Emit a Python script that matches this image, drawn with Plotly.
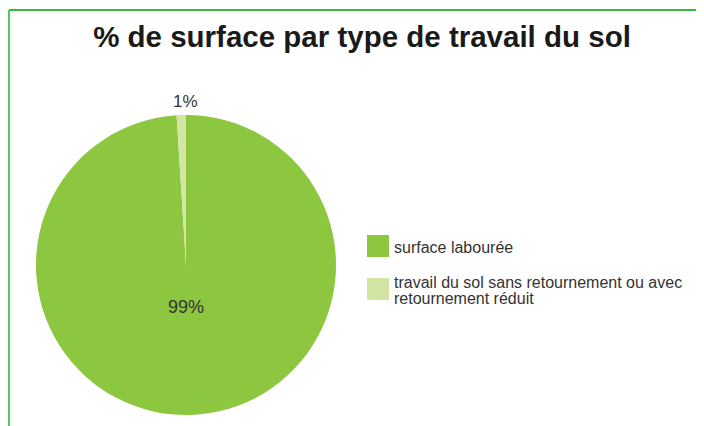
import plotly.graph_objects as go

labels = ["surface labourée", "travail du sol sans retournement ou avec<br>retournement réduit"]
values = [99, 1]
text_labels = ["99%", "1%"]
colors = ["#8DC63F", "#D2E5A2"]

# page has an 8px body margin, so the figure is a bit smaller than the window
W, H = 696, 418
FONT = "Liberation Sans, Arial"

fig = go.Figure()
fig.add_trace(go.Pie(
    labels=labels,
    values=values,
    textinfo="none",
    marker=dict(colors=colors, line=dict(width=0)),
    sort=False,
    direction="clockwise",
    rotation=0,
    showlegend=False,
    hoverinfo="label+percent",
    domain=dict(x=[28 / W, 328 / W], y=[1 - 407 / H, 1 - 107 / H]),
))

shapes = []
annotations = []

# slice labels placed where the original has them
label_pos = [(178, 299, 18), (177, 94, 17)]
for t, (lx, ly, fs) in zip(text_labels, label_pos):
    annotations.append(dict(xref="paper", yref="paper", x=lx / W, y=1 - ly / H,
                            xanchor="center", yanchor="middle",
                            text=t, showarrow=False,
                            font=dict(family=FONT, size=fs, color="#333333")))

# legend drawn by hand (big squares, tight line spacing)
square_top = [227, 270]
baselines = [[244], [279, 295]]
for lab, col, sq, bl in zip(labels, colors, square_top, baselines):
    shapes.append(dict(type="rect", xref="paper", yref="paper",
                       x0=359 / W, x1=381 / W, y0=1 - (sq + 22) / H, y1=1 - sq / H,
                       fillcolor=col, line=dict(width=0)))
    for line, b in zip(lab.split("<br>"), bl):
        annotations.append(dict(xref="paper", yref="paper", x=384 / W, y=1 - (b - 5) / H,
                                text=line, showarrow=False, xanchor="left", yanchor="middle",
                                font=dict(family=FONT, size=16, color="#333333")))

# green frame (top and left)
shapes.append(dict(type="line", xref="paper", yref="paper", x0=1 / W, x1=1, y0=1 - 2 / H, y1=1 - 2 / H,
                   line=dict(color="#3CB83C", width=2)))
shapes.append(dict(type="line", xref="paper", yref="paper", x0=1 / W, x1=1 / W, y0=0, y1=1 - 2 / H,
                   line=dict(color="#5CC45C", width=2)))

fig.update_layout(
    width=W, height=H,
    margin=dict(l=0, r=0, t=0, b=0),
    paper_bgcolor="white",
    plot_bgcolor="white",
    title=dict(text="<b>% de surface par type de travail du sol</b>",
               font=dict(family=FONT, size=29.5, color="#1a1a1a"),
               x=354 / W, xanchor="center", y=1 - 29 / H, yanchor="middle"),
    shapes=shapes,
    annotations=annotations,
)

fig.write_html("out.html")
